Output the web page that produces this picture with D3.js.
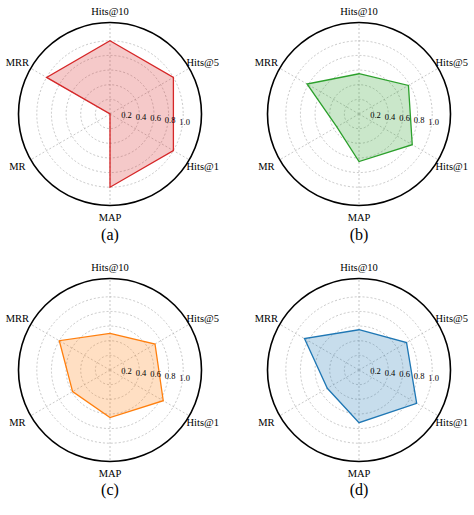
<!DOCTYPE html>
<html>
<head>
<meta charset="utf-8">
<script src="https://cdn.jsdelivr.net/npm/d3@7"></script>
<style>
  body { margin: 0; background: #fff; }
  text { font-family: "Liberation Serif", "DejaVu Serif", serif; }
</style>
</head>
<body>
<div id="chart"></div>
<script>
// radar charts, 2x2

// axes, clockwise from the top
const axes = ["Hits@10", "Hits@5", "Hits@1", "MAP", "MR", "MRR"];
const ticks = [0.2, 0.4, 0.6, 0.8, 1.0];
const panelNames = ["(a)", "(b)", "(c)", "(d)"];
const colors = ["#d62728", "#2ca02c", "#ff7f0e", "#1f77b4"];

// values per panel (same order as axes)
const valuesA = [1.0, 1.0, 1.0, 1.0, 0.0, 1.0];
const valuesB = [0.55, 0.78, 0.84, 0.65, 0.35, 0.82];
const valuesC = [0.5, 0.71, 0.84, 0.65, 0.59, 0.80];
const valuesD = [0.55, 0.75, 0.91, 0.72, 0.5, 0.86];
const allValues = [valuesA, valuesB, valuesC, valuesD];

const W = 474, H = 515;
const outerR = 91.5;

const svg = d3.select("#chart")
  .append("svg")
    .attr("width", W)
    .attr("height", H);

// radial scale: outer frame is 1.25
const r = d3.scaleLinear().domain([0, 1.25]).range([0, outerR]);
// angle scale (radians, 0 = up, clockwise)
const a = d3.scaleLinear().domain([0, axes.length]).range([0, 2 * Math.PI]);

const centers = [[110, 114], [359, 114], [110, 370], [359, 370]];
const captionY = [240, 240, 495, 495];

function px(i, v) { return r(v) * Math.sin(a(i)); }
function py(i, v) { return -r(v) * Math.cos(a(i)); }

allValues.forEach(function(vals, k) {
  const g = svg.append("g")
    .attr("transform", `translate(${centers[k][0]}, ${centers[k][1]})`);

  // rings
  g.selectAll("circle.ring")
    .data(ticks)
    .enter().append("circle")
      .attr("class", "ring")
      .attr("r", function(d) { return r(d); })
      .attr("fill", "none")
      .attr("stroke", "#b0b0b0")
      .attr("stroke-width", 0.7)
      .attr("stroke-dasharray", "2,2");

  // spokes
  g.selectAll("line.spoke")
    .data(axes)
    .enter().append("line")
      .attr("x1", 0).attr("y1", 0)
      .attr("x2", function(d, i) { return px(i, 1.25); })
      .attr("y2", function(d, i) { return py(i, 1.25); })
      .attr("stroke", "#b0b0b0")
      .attr("stroke-width", 0.7)
      .attr("stroke-dasharray", "2,2");

  // data polygon
  const line = d3.lineRadial()
    .angle(function(d, i) { return a(i); })
    .radius(function(d) { return r(d); })
    .curve(d3.curveLinearClosed);

  g.append("path")
    .datum(vals)
    .attr("d", line)
    .attr("fill", colors[k])
    .attr("fill-opacity", 0.25)
    .attr("stroke", colors[k])
    .attr("stroke-width", 1.3);

  // outer frame
  g.append("circle")
    .attr("r", outerR)
    .attr("fill", "none")
    .attr("stroke", "#000")
    .attr("stroke-width", 1.6);

  // tick labels at about -7 degrees
  const tAng = (90 + 7) * Math.PI / 180;
  g.selectAll("text.tick")
    .data(ticks)
    .enter().append("text")
      .attr("x", function(d) { return r(d) * Math.sin(tAng) + 2; })
      .attr("y", function(d) { return -r(d) * Math.cos(tAng) + 2; })
      .attr("text-anchor", "middle")
      .attr("font-size", 8.5)
      .text(function(d) { return d.toFixed(1); });

  // axis labels
  g.selectAll("text.axis")
    .data(axes)
    .enter().append("text")
      .attr("x", function(d, i) { return px(i, 1.25) * 1.17; })
      .attr("y", function(d, i) { return py(i, 1.25) * 1.13 + 4; })
      .attr("text-anchor", "middle")
      .attr("font-size", 10.5)
      .text(function(d) { return d; });

  // caption
  svg.append("text")
    .attr("x", centers[k][0])
    .attr("y", captionY[k])
    .attr("text-anchor", "middle")
    .attr("font-size", 16)
    .text(panelNames[k]);
});
</script>
</body>
</html>
